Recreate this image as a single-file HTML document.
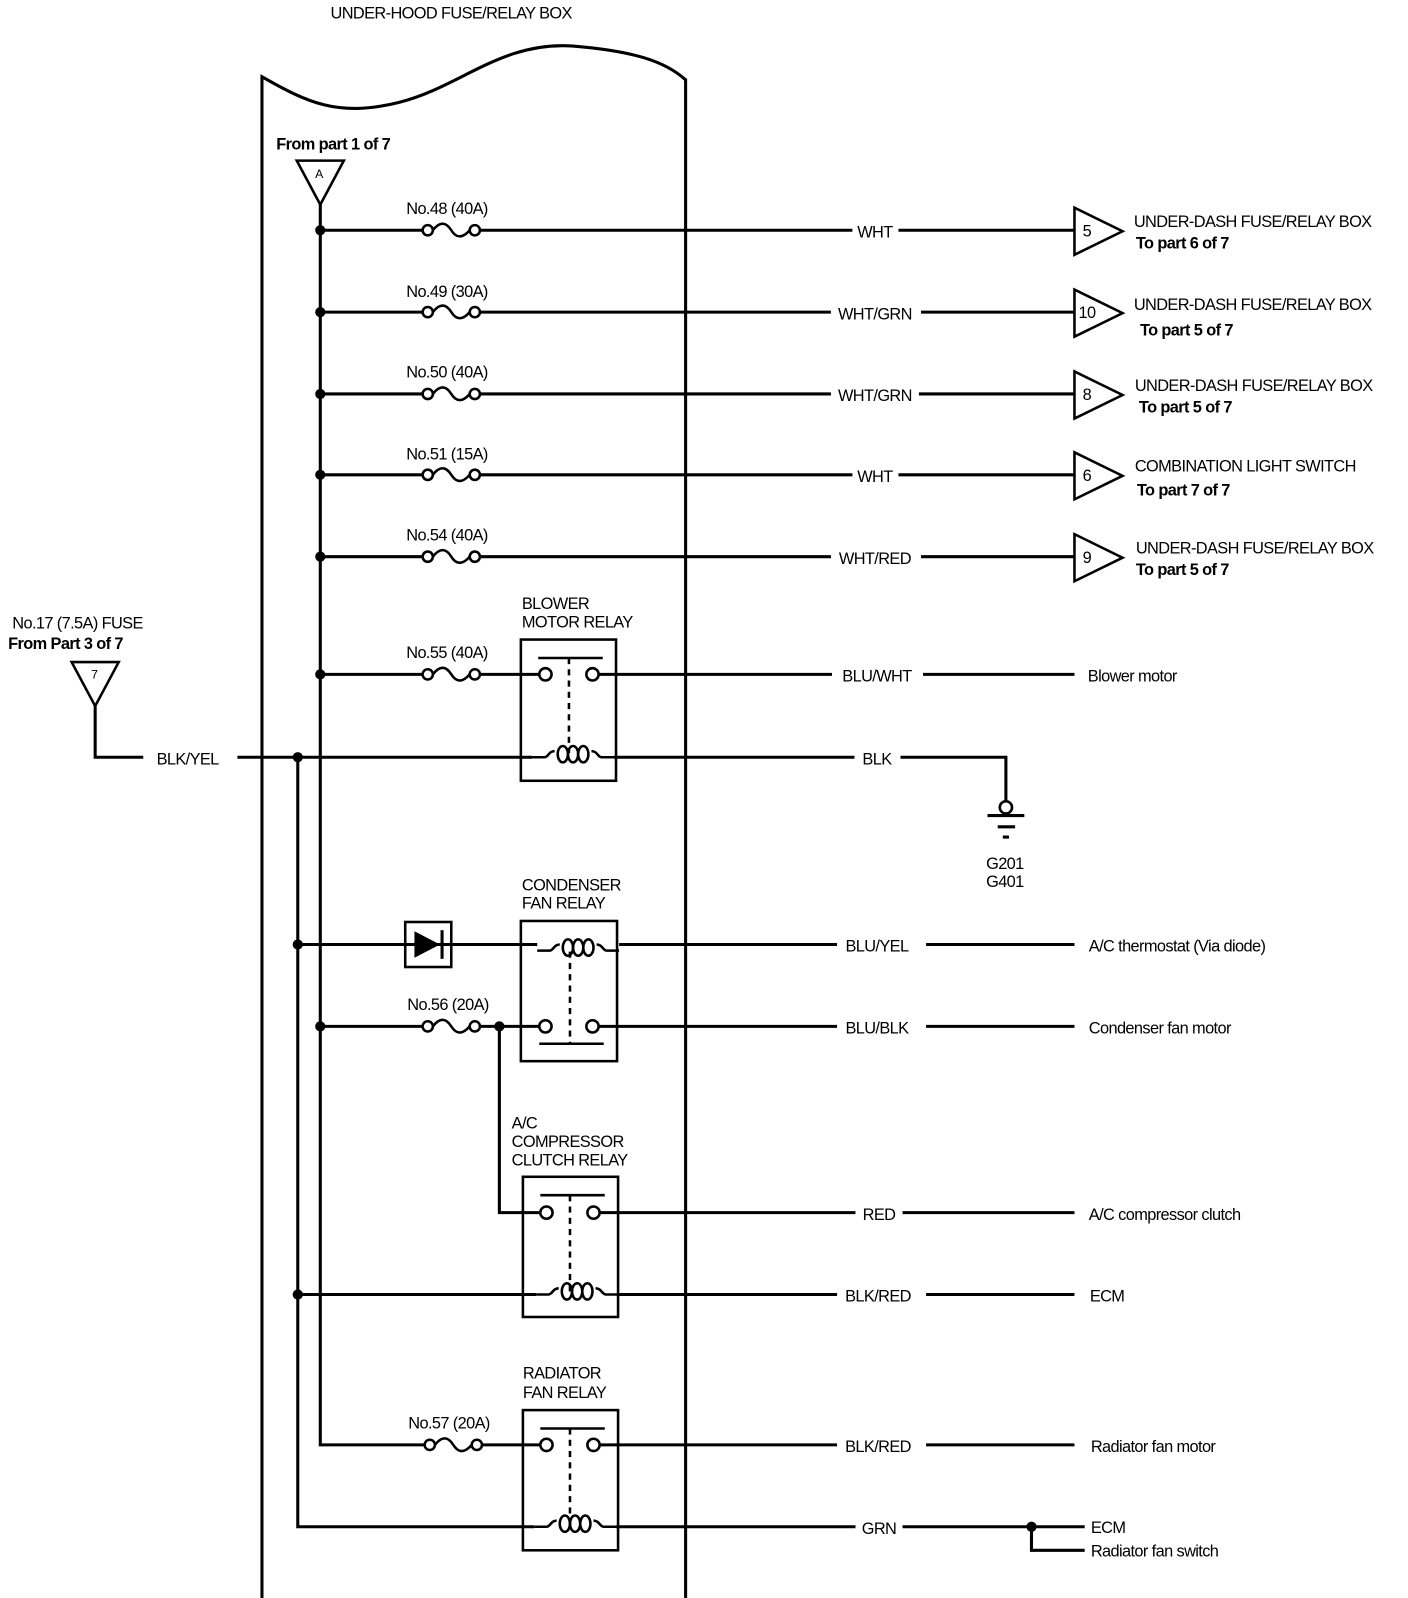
<!DOCTYPE html>
<html><head><meta charset="utf-8"><style>
html,body{margin:0;padding:0;background:#fff;}
svg{display:block;}
text{font-family:"Liberation Sans",Arial,sans-serif;font-size:16px;fill:#000;letter-spacing:-0.6px;}
.b{font-weight:bold;}
</style></head><body>
<svg width="1408" height="1598" viewBox="0 0 1408 1598" xmlns="http://www.w3.org/2000/svg">
<defs>
<g id="fuse" fill="none" stroke="#000" stroke-width="2.5">
<circle cx="6" cy="0" r="5" fill="#fff"/>
<path d="M11,0 C18,-9 24,-8 29,0 C34,8 40,8 47,0"/>
<circle cx="52" cy="0" r="5" fill="#fff"/>
</g>
<g id="sw" fill="none" stroke="#000" stroke-width="2.5">
<circle cx="24" cy="0" r="6" fill="#fff"/>
<circle cx="70" cy="0" r="6" fill="#fff"/>
</g>
<g id="coil" fill="none" stroke="#000" stroke-width="2.5">
<path d="M0,0 H12 C16,0 16,-6 22,-6 M58,-6 C64,-6 64,0 68,0 H80"/>
<ellipse cx="30" cy="-3" rx="5" ry="8"/>
<ellipse cx="40" cy="-3" rx="5" ry="8"/>
<ellipse cx="50" cy="-3" rx="5" ry="8"/>
</g>
<g id="conn" fill="#fff" stroke="#000" stroke-width="2.5">
<polygon points="0,-23 0,23 47,0"/>
</g>
</defs>
<g transform="scale(1.0233)">
<text x="323" y="18">UNDER-HOOD FUSE/RELAY BOX</text>
<path d="M256,1562 V75 C300,100 330,115 390,100 C450,85 490,40 560,45 C620,50 650,60 670,78 V1562" fill="none" stroke="#000" stroke-width="3"/>

<text x="270" y="146" class="b">From part 1 of 7</text>
<polygon points="290,157 336,157 313,200" fill="#fff" stroke="#000" stroke-width="2.5"/>
<text x="308" y="174" style="font-size:12px">A</text>

<g stroke="#000" stroke-width="3" fill="none">
<path d="M313,200 V1412 H414"/>
<path d="M232,740 H520"/>
<path d="M291,740 V1492 H522"/>
<path d="M313,225 H412 M470,225 H833 M878,225 H1050"/>
<path d="M313,305 H412 M470,305 H812 M900,305 H1050"/>
<path d="M313,385 H412 M470,385 H812 M898,385 H1050"/>
<path d="M313,464 H412 M470,464 H833 M878,464 H1050"/>
<path d="M313,544 H412 M470,544 H812 M900,544 H1050"/>
<path d="M313,659 H412 M470,659 H527 M584,659 H813 M902,659 H1050"/>
<path d="M600,740 H835 M880,740 H983 V783"/>
<path d="M291,923 H396 M441,923 H525 M605,923 H818 M905,923 H1050"/>
<path d="M313,1003 H412 M470,1003 H527 M584,1003 H818 M905,1003 H1050"/>
<path d="M488,1003 V1185 H527 M584,1185 H836 M882,1185 H1050"/>
<path d="M291,1265 H524 M604,1265 H818 M905,1265 H1050"/>
<path d="M472,1412 H528 M584,1412 H818 M905,1412 H1050"/>
<path d="M602,1492 H836 M882,1492 H1008 V1515 H1060 M1008,1492 H1060"/>
<path d="M93,690 V740 H140"/>
<path d="M965,797 H1001 M975,808 H992 M980,818 H986"/>
</g>
<polygon points="70,647 116,647 93,690" fill="#fff" stroke="#000" stroke-width="2.5"/>
<text x="89" y="663" style="font-size:12px">7</text>
<circle cx="983" cy="789" r="6" fill="#fff" stroke="#000" stroke-width="2.5"/>
<text x="982" y="849" text-anchor="middle">G201</text>
<text x="982" y="867" text-anchor="middle">G401</text>

<g fill="#000">
<circle cx="313" cy="225" r="5"/><circle cx="313" cy="305" r="5"/><circle cx="313" cy="385" r="5"/>
<circle cx="313" cy="464" r="5"/><circle cx="313" cy="544" r="5"/><circle cx="313" cy="659" r="5"/>
<circle cx="291" cy="740" r="5"/><circle cx="291" cy="923" r="5"/><circle cx="313" cy="1003" r="5"/>
<circle cx="488" cy="1003" r="5"/><circle cx="291" cy="1265" r="5"/><circle cx="1008" cy="1492" r="5"/>
</g>

<use href="#fuse" x="412" y="225"/><use href="#fuse" x="412" y="305"/><use href="#fuse" x="412" y="385"/>
<use href="#fuse" x="412" y="464"/><use href="#fuse" x="412" y="544"/><use href="#fuse" x="412" y="659"/>
<use href="#fuse" x="412" y="1003"/><use href="#fuse" x="414" y="1412"/>
<text x="397" y="209">No.48 (40A)</text>
<text x="397" y="290">No.49 (30A)</text>
<text x="397" y="369">No.50 (40A)</text>
<text x="397" y="449">No.51 (15A)</text>
<text x="397" y="528">No.54 (40A)</text>
<text x="397" y="643">No.55 (40A)</text>
<text x="398" y="987">No.56 (20A)</text>
<text x="399" y="1396">No.57 (20A)</text>

<g fill="none" stroke="#000" stroke-width="2.5">
<rect x="509" y="625" width="93" height="138"/>
<rect x="509" y="900" width="94" height="137"/>
<rect x="511" y="1150" width="93" height="137"/>
<rect x="511" y="1378" width="93" height="137"/>
<path d="M526,643 H589 M527,1020 H590 M528,1168 H591 M528,1396 H591"/>
<path d="M556,643 V736 M557,930 V1020 M557,1168 V1262 M557,1396 V1489" stroke-dasharray="6,5"/>
</g>
<use href="#sw" x="509" y="659"/><use href="#coil" x="520" y="740"/>
<use href="#coil" x="525" y="929"/>
<use href="#sw" x="509" y="1003"/>
<use href="#sw" x="510" y="1185"/><use href="#coil" x="524" y="1265"/>
<use href="#sw" x="510" y="1412"/><use href="#coil" x="522" y="1492"/>
<rect x="396" y="901" width="45" height="44" fill="#fff" stroke="#000" stroke-width="2.5"/>
<path d="M396,923 H441" stroke="#000" stroke-width="3"/>
<polygon points="405,910 405,936 430,923" fill="#000"/>
<path d="M432,909 V937" stroke="#000" stroke-width="3"/>

<text x="510" y="595">BLOWER</text><text x="510" y="613">MOTOR RELAY</text>
<text x="510" y="870">CONDENSER</text><text x="510" y="888">FAN RELAY</text>
<text x="500" y="1103">A/C</text><text x="500" y="1121">COMPRESSOR</text><text x="500" y="1139">CLUTCH RELAY</text>
<text x="511" y="1347">RADIATOR</text><text x="511" y="1366">FAN RELAY</text>

<g text-anchor="middle">
<text x="855" y="232">WHT</text><text x="855" y="312">WHT/GRN</text><text x="855" y="392">WHT/GRN</text>
<text x="855" y="471">WHT</text><text x="855" y="551">WHT/RED</text><text x="857" y="666">BLU/WHT</text>
<text x="857" y="747">BLK</text><text x="857" y="930">BLU/YEL</text><text x="857" y="1010">BLU/BLK</text>
<text x="859" y="1192">RED</text><text x="858" y="1272">BLK/RED</text><text x="858" y="1419">BLK/RED</text>
<text x="859" y="1499">GRN</text>
</g>
<text x="153" y="747">BLK/YEL</text>
<text x="12" y="614">No.17 (7.5A) FUSE</text>
<text x="8" y="634" class="b">From Part 3 of 7</text>

<use href="#conn" x="1050" y="226"/><use href="#conn" x="1050" y="306"/><use href="#conn" x="1050" y="386"/>
<use href="#conn" x="1050" y="465"/><use href="#conn" x="1050" y="545"/>
<g style="font-size:11px">
<text x="1058" y="231">5</text><text x="1054" y="311">10</text><text x="1058" y="391">8</text>
<text x="1058" y="470">6</text><text x="1058" y="550">9</text>
</g>
<text x="1108" y="222">UNDER-DASH FUSE/RELAY BOX</text><text x="1110" y="243" class="b">To part 6 of 7</text>
<text x="1108" y="303">UNDER-DASH FUSE/RELAY BOX</text><text x="1114" y="328" class="b">To part 5 of 7</text>
<text x="1109" y="382">UNDER-DASH FUSE/RELAY BOX</text><text x="1113" y="403" class="b">To part 5 of 7</text>
<text x="1109" y="461">COMBINATION LIGHT SWITCH</text><text x="1111" y="484" class="b">To part 7 of 7</text>
<text x="1110" y="541">UNDER-DASH FUSE/RELAY BOX</text><text x="1110" y="562" class="b">To part 5 of 7</text>

<text x="1063" y="666">Blower motor</text>
<text x="1064" y="930">A/C thermostat (Via diode)</text>
<text x="1064" y="1010">Condenser fan motor</text>
<text x="1064" y="1192">A/C compressor clutch</text>
<text x="1065" y="1272">ECM</text>
<text x="1066" y="1419">Radiator fan motor</text>
<text x="1066" y="1498">ECM</text>
<text x="1066" y="1521">Radiator fan switch</text>
</g>
</svg>
</body></html>
